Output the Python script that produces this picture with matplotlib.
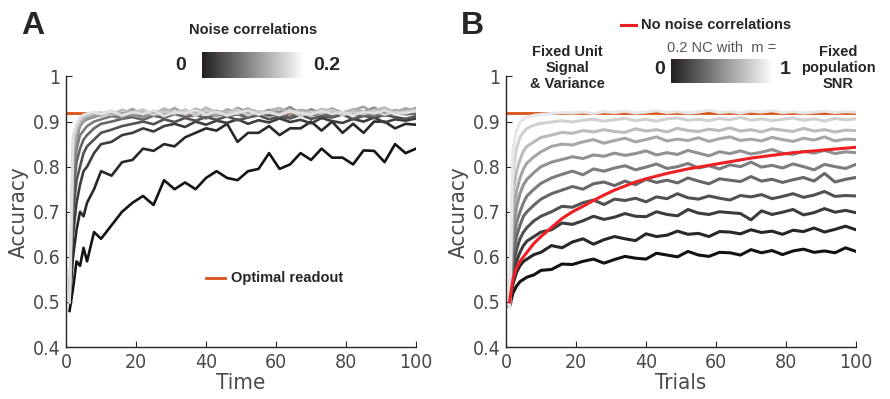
import numpy as np
import matplotlib
matplotlib.use("Agg")
import matplotlib.pyplot as plt
from matplotlib import font_manager

plt.rcParams["font.family"] = ["Liberation Sans", "DejaVu Sans"]

# look for a condensed face for tick labels (reference uses a narrow Helvetica)
narrow_file = None
for key in ["LiberationSansNarrow-Regular", "DejaVuSansCondensed.ttf", "Condensed-Regular", "Narrow"]:
    for f in font_manager.findSystemFonts():
        if key in f and "Bold" not in f and "Italic" not in f and "Oblique" not in f:
            narrow_file = f
            break
    if narrow_file:
        break
if narrow_file:
    narrow = font_manager.FontProperties(fname=narrow_file)
else:
    narrow = font_manager.FontProperties(family="Liberation Sans")

# common time / trial grid
t = [1, 2, 3, 4, 5, 6, 8, 10, 13, 16, 19, 22, 25, 28, 31, 34, 37, 40, 43, 46,
     49, 52, 55, 58, 61, 64, 67, 70, 73, 76, 79, 82, 85, 88, 91, 94, 97, 100]

# panel A: accuracy over time for noise correlations 0 .. 0.2
a0 = [0.48, 0.53, 0.59, 0.58, 0.62, 0.59, 0.655, 0.64, 0.67, 0.70, 0.72, 0.735, 0.715, 0.77, 0.75, 0.765,
      0.75, 0.775, 0.79, 0.775, 0.77, 0.79, 0.795, 0.83, 0.795, 0.805, 0.83, 0.815, 0.84, 0.82, 0.82, 0.805,
      0.836, 0.835, 0.81, 0.85, 0.83, 0.84]
a1 = [0.50, 0.60, 0.66, 0.70, 0.69, 0.72, 0.75, 0.79, 0.78, 0.81, 0.815, 0.84, 0.835, 0.85, 0.845, 0.865,
      0.875, 0.885, 0.88, 0.895, 0.855, 0.875, 0.875, 0.89, 0.87, 0.885, 0.885, 0.90, 0.88, 0.90, 0.875, 0.895,
      0.875, 0.90, 0.90, 0.885, 0.895, 0.893]
a2 = [0.50, 0.65, 0.72, 0.76, 0.79, 0.80, 0.83, 0.85, 0.855, 0.87, 0.875, 0.885, 0.878, 0.89, 0.895, 0.888,
      0.90, 0.893, 0.902, 0.897, 0.905, 0.895, 0.903, 0.898, 0.907, 0.899, 0.904, 0.896, 0.908, 0.901, 0.897,
      0.906, 0.900, 0.909, 0.898, 0.905, 0.902, 0.907]
a3 = [0.50, 0.70, 0.77, 0.80, 0.83, 0.845, 0.86, 0.875, 0.882, 0.89, 0.895, 0.90, 0.894, 0.905, 0.899, 0.908,
      0.902, 0.91, 0.904, 0.912, 0.903, 0.909, 0.914, 0.905, 0.911, 0.907, 0.915, 0.906, 0.912, 0.909, 0.916,
      0.905, 0.913, 0.908, 0.915, 0.910, 0.906, 0.912]
a4 = [0.50, 0.74, 0.81, 0.84, 0.86, 0.87, 0.885, 0.895, 0.90, 0.906, 0.91, 0.904, 0.913, 0.908, 0.917, 0.91,
      0.915, 0.907, 0.918, 0.912, 0.916, 0.909, 0.92, 0.913, 0.917, 0.91, 0.921, 0.914, 0.918, 0.911, 0.92,
      0.915, 0.912, 0.919, 0.913, 0.921, 0.916, 0.918]
a5 = [0.50, 0.77, 0.84, 0.87, 0.88, 0.89, 0.90, 0.905, 0.912, 0.908, 0.917, 0.911, 0.92, 0.913, 0.918, 0.926,
      0.914, 0.92, 0.912, 0.923, 0.916, 0.92, 0.913, 0.925, 0.917, 0.921, 0.914, 0.927, 0.918, 0.922, 0.915,
      0.924, 0.919, 0.913, 0.922, 0.917, 0.928, 0.92]
a6 = [0.50, 0.80, 0.86, 0.89, 0.90, 0.905, 0.91, 0.915, 0.92, 0.912, 0.925, 0.918, 0.914, 0.927, 0.92, 0.916,
      0.928, 0.919, 0.924, 0.915, 0.93, 0.92, 0.917, 0.926, 0.921, 0.932, 0.918, 0.924, 0.92, 0.929, 0.917,
      0.926, 0.922, 0.931, 0.919, 0.925, 0.921, 0.93]
a7 = [0.50, 0.82, 0.875, 0.895, 0.905, 0.91, 0.915, 0.913, 0.922, 0.917, 0.928, 0.914, 0.923, 0.919, 0.93,
      0.916, 0.925, 0.921, 0.913, 0.927, 0.92, 0.929, 0.915, 0.924, 0.93, 0.918, 0.926, 0.922, 0.917, 0.928,
      0.92, 0.925, 0.933, 0.919, 0.926, 0.921, 0.929, 0.924]
a8 = [0.50, 0.84, 0.885, 0.90, 0.91, 0.912, 0.918, 0.92, 0.915, 0.926, 0.919, 0.923, 0.916, 0.929, 0.921,
      0.925, 0.918, 0.931, 0.92, 0.924, 0.917, 0.927, 0.922, 0.919, 0.93, 0.921, 0.925, 0.916, 0.928, 0.923,
      0.92, 0.927, 0.918, 0.925, 0.931, 0.92, 0.924, 0.927]
a9 = [0.50, 0.86, 0.89, 0.905, 0.912, 0.916, 0.92, 0.917, 0.924, 0.912, 0.921, 0.927, 0.915, 0.922, 0.918,
      0.926, 0.913, 0.924, 0.92, 0.917, 0.927, 0.914, 0.923, 0.92, 0.916, 0.925, 0.912, 0.922, 0.919, 0.926,
      0.914, 0.921, 0.917, 0.924, 0.915, 0.922, 0.918, 0.925]
a10 = [0.50, 0.87, 0.895, 0.91, 0.915, 0.918, 0.921, 0.916, 0.923, 0.914, 0.92, 0.917, 0.925, 0.912, 0.921,
       0.918, 0.926, 0.915, 0.922, 0.913, 0.92, 0.924, 0.916, 0.921, 0.914, 0.923, 0.919, 0.915, 0.924, 0.917,
       0.921, 0.914, 0.922, 0.918, 0.925, 0.916, 0.92, 0.923]
curves_a = [a0, a1, a2, a3, a4, a5, a6, a7, a8, a9, a10]

# panel B: accuracy over trials, 0.2 NC with m = 0 .. 1
b0 = [0.49, 0.52, 0.535, 0.545, 0.55, 0.555, 0.56,
      0.57, 0.572, 0.584, 0.583, 0.59, 0.595, 0.586, 0.594, 0.601, 0.597, 0.595, 0.608, 0.604, 0.60, 0.612,
      0.604, 0.601, 0.61, 0.609, 0.604, 0.616, 0.609, 0.614, 0.605, 0.613, 0.617, 0.61, 0.613, 0.609, 0.62, 0.612]
b1 = [0.49, 0.54, 0.565, 0.58, 0.59, 0.595, 0.605,
      0.61, 0.625, 0.62, 0.633, 0.64, 0.628, 0.638, 0.645, 0.64, 0.636, 0.651, 0.645, 0.648, 0.657, 0.65,
      0.652, 0.645, 0.656, 0.655, 0.651, 0.66, 0.654, 0.657, 0.65, 0.659, 0.656, 0.664, 0.655, 0.661, 0.668, 0.66]
b2 = [0.49, 0.56, 0.59, 0.61, 0.625, 0.635, 0.645,
      0.655, 0.66, 0.675, 0.672, 0.68, 0.69, 0.683, 0.688, 0.696, 0.69, 0.689, 0.70, 0.694, 0.691, 0.705,
      0.697, 0.694, 0.70, 0.698, 0.696, 0.682, 0.702, 0.694, 0.699, 0.705, 0.693, 0.698, 0.707, 0.699, 0.703, 0.698]
b3 = [0.49, 0.58, 0.615, 0.64, 0.655, 0.665, 0.68,
      0.69, 0.70, 0.712, 0.71, 0.72, 0.726, 0.716, 0.728, 0.725, 0.73, 0.722, 0.733, 0.729, 0.74, 0.731,
      0.728, 0.735, 0.73, 0.726, 0.736, 0.733, 0.738, 0.729, 0.734, 0.74, 0.732, 0.737, 0.745, 0.734, 0.736, 0.735]
b4 = [0.49, 0.60, 0.645, 0.67, 0.69, 0.70, 0.715,
      0.728, 0.74, 0.748, 0.756, 0.75, 0.762, 0.766, 0.758, 0.768, 0.76, 0.772, 0.765, 0.77, 0.764, 0.775,
      0.768, 0.762, 0.773, 0.77, 0.767, 0.778, 0.768, 0.772, 0.765, 0.771, 0.776, 0.768, 0.785, 0.766, 0.772, 0.776]
b5 = [0.49, 0.63, 0.675, 0.70, 0.72, 0.735, 0.75,
      0.763, 0.775, 0.783, 0.79, 0.782, 0.795, 0.79, 0.797, 0.802, 0.793, 0.799, 0.806, 0.796, 0.8, 0.807,
      0.797, 0.802, 0.795, 0.804, 0.8, 0.81, 0.799, 0.803, 0.797, 0.806, 0.8, 0.793, 0.805, 0.8, 0.796, 0.805]
b6 = [0.49, 0.66, 0.71, 0.74, 0.76, 0.772, 0.787,
      0.80, 0.81, 0.816, 0.822, 0.818, 0.826, 0.823, 0.83, 0.825, 0.829, 0.835, 0.826, 0.831, 0.827, 0.836,
      0.83, 0.824, 0.833, 0.829, 0.835, 0.828, 0.832, 0.838, 0.83, 0.827, 0.834, 0.83, 0.836, 0.829, 0.833, 0.831]
b7 = [0.49, 0.70, 0.745, 0.775, 0.795, 0.808, 0.822,
      0.833, 0.845, 0.85, 0.848, 0.855, 0.86, 0.852, 0.858, 0.863, 0.855, 0.86, 0.866, 0.857, 0.861, 0.858,
      0.864, 0.856, 0.862, 0.866, 0.858, 0.861, 0.857, 0.865, 0.86, 0.856, 0.863, 0.859, 0.866, 0.857, 0.861, 0.86]
b8 = [0.49, 0.74, 0.79, 0.815, 0.835, 0.845, 0.855,
      0.865, 0.87, 0.876, 0.874, 0.88, 0.877, 0.882, 0.878, 0.876, 0.884, 0.879, 0.882, 0.877, 0.885, 0.88,
      0.878, 0.883, 0.88, 0.886, 0.879, 0.882, 0.877, 0.884, 0.881, 0.878, 0.885, 0.879, 0.882, 0.877, 0.881, 0.88]
b9 = [0.49, 0.79, 0.84, 0.865, 0.877, 0.885, 0.892,
      0.896, 0.899, 0.902, 0.899, 0.903, 0.905, 0.901, 0.904, 0.907, 0.902, 0.905, 0.901, 0.906, 0.908, 0.903,
      0.905, 0.902, 0.907, 0.904, 0.909, 0.903, 0.906, 0.902, 0.905, 0.908, 0.903, 0.906, 0.901, 0.907, 0.904, 0.906]
b10 = [0.49, 0.84, 0.88, 0.898, 0.906, 0.91, 0.914,
       0.916, 0.918, 0.92, 0.919, 0.921, 0.918, 0.922, 0.92, 0.923, 0.919, 0.921, 0.924, 0.92, 0.922, 0.919,
       0.921, 0.925, 0.92, 0.922, 0.919, 0.923, 0.921, 0.924, 0.92, 0.922, 0.919, 0.921, 0.923, 0.92, 0.922, 0.921]
curves_b = [b0, b1, b2, b3, b4, b5, b6, b7, b8, b9, b10]
no_nc = [0.50, 0.55, 0.575, 0.59, 0.60, 0.61, 0.63, 0.645, 0.665, 0.685, 0.70, 0.712, 0.725, 0.737, 0.748,
         0.757, 0.766, 0.773, 0.779, 0.785, 0.79, 0.795, 0.799, 0.803, 0.807, 0.811, 0.815, 0.819, 0.822,
         0.825, 0.828, 0.831, 0.833, 0.835, 0.837, 0.839, 0.841, 0.843]

optimal = 0.92

orange = "#d95319"
red = "#ee2024"
tick_gray = "#4a4a4a"
dark = "#262626"

fig = plt.figure(figsize=(8.9, 3.99), dpi=100)
ax_a = fig.add_axes([0.0742, 0.1303, 0.3933, 0.678])
ax_b = fig.add_axes([0.5685, 0.1303, 0.3933, 0.678])

ax_a.plot([0, 100], [optimal, optimal], color=orange, lw=2)
shades_a = np.linspace(0.08, 0.88, len(curves_a))
for vals, g in zip(curves_a, shades_a):
    ax_a.plot(t, vals, color=str(g), lw=1.9)

ax_b.plot([0, 100], [optimal, optimal], color=orange, lw=2)
shades_b = np.linspace(0.07, 0.9, len(curves_b))
for vals, g in zip(curves_b, shades_b):
    ax_b.plot(t, vals, color=str(g), lw=2.2)
ax_b.plot(t, no_nc, color=red, lw=2.2)

for ax, xl in [(ax_a, "Time"), (ax_b, "Trials")]:
    ax.set_xlim(0, 100)
    ax.set_ylim(0.4, 1)
    ax.set_xticks([0, 20, 40, 60, 80, 100])
    ax.set_yticks([0.4, 0.5, 0.6, 0.7, 0.8, 0.9, 1.0])
    ax.set_yticklabels(["0.4", "0.5", "0.6", "0.7", "0.8", "0.9", "1"])
    for s in ["top", "right"]:
        ax.spines[s].set_visible(False)
    for s in ["left", "bottom"]:
        ax.spines[s].set_color(dark)
        ax.spines[s].set_linewidth(1.0)
    ax.tick_params(direction="in", length=4, width=0.8, color=dark,
                   labelcolor=tick_gray, pad=4)
    for lab in ax.get_xticklabels() + ax.get_yticklabels():
        lab.set_fontproperties(narrow)
        lab.set_fontsize(14)
    ax.set_xlabel(xl, fontproperties=narrow, fontsize=16, color=tick_gray, labelpad=1)
    ax.set_ylabel("Accuracy", fontproperties=narrow, fontsize=16, color=tick_gray, labelpad=3)

# panel letters
fig.text(0.024, 0.935, "A", fontsize=23, fontweight="bold", color=dark, va="center")
fig.text(0.518, 0.935, "B", fontsize=23, fontweight="bold", color=dark, va="center")

# panel A colorbar
grad = np.linspace(0, 1, 256).reshape(1, -1)
cmap = matplotlib.colors.LinearSegmentedColormap.from_list("g", ["#231f20", "#ffffff"])
cb_a = fig.add_axes([0.227, 0.8045, 0.1135, 0.065])
cb_a.imshow(grad, aspect="auto", cmap=cmap)
cb_a.axis("off")
fig.text(253 / 890, 1 - 30 / 399, "Noise correlations", fontsize=10.5, fontweight="bold",
         color=dark, ha="center", va="center")
fig.text(181 / 890, 1 - 65 / 399, "0", fontsize=14, fontweight="bold", color=dark, ha="center", va="center")
fig.text(327 / 890, 1 - 65 / 399, "0.2", fontsize=14, fontweight="bold", color=dark, ha="center", va="center")

# panel A legend
ax_a.plot([0.40, 0.455], [0.255, 0.255], transform=ax_a.transAxes, color=orange, lw=2)
ax_a.text(0.472, 0.255, "Optimal readout", transform=ax_a.transAxes, fontsize=10.5,
          fontweight="bold", color=dark, va="center")

# panel B colorbar and annotations
cb_b = fig.add_axes([0.754, 0.792, 0.1146, 0.060])
cb_b.imshow(grad, aspect="auto", cmap=cmap)
cb_b.axis("off")
fig.add_artist(plt.Line2D([621 / 890, 636 / 890], [1 - 25 / 399, 1 - 25 / 399], color=red, lw=2.2))
fig.text(641 / 890, 1 - 25 / 399, "No noise correlations", fontsize=10.5, fontweight="bold",
         color=dark, va="center")
fig.text(722 / 890, 1 - 48 / 399, "0.2 NC with  m =", fontsize=10.5, color="#555555",
         ha="center", va="center")
fig.text(660 / 890, 1 - 70 / 399, "0", fontsize=14, fontweight="bold", color=dark, ha="center", va="center")
fig.text(785 / 890, 1 - 70 / 399, "1", fontsize=14, fontweight="bold", color=dark, ha="center", va="center")
fig.text(567 / 890, 1 - 68 / 399, "Fixed Unit\nSignal\n& Variance", fontsize=10.5, fontweight="bold",
         color=dark, ha="center", va="center", linespacing=1.15)
fig.text(838 / 890, 1 - 68 / 399, "Fixed\npopulation\nSNR", fontsize=10.5, fontweight="bold",
         color=dark, ha="center", va="center", linespacing=1.15)

fig.savefig("out.png", dpi=100)
